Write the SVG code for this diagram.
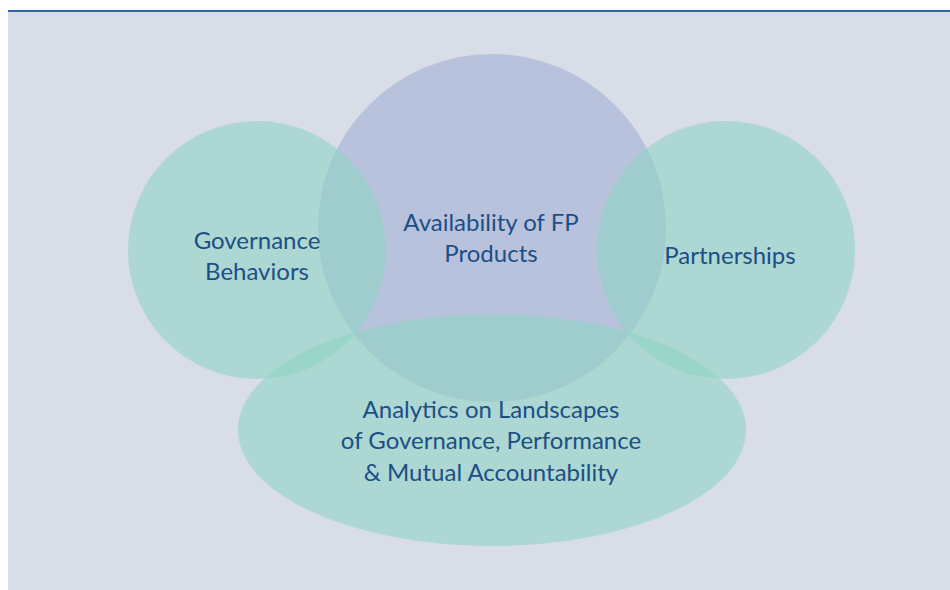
<svg xmlns="http://www.w3.org/2000/svg" width="950" height="590" viewBox="0 0 950 590">
<style>
.t{font-family:Lato,"Open Sans","Liberation Sans",sans-serif;font-size:24px;fill:#1c4f86;text-anchor:middle}
.teal{fill:#8ed3c5;fill-opacity:0.6}
</style>
<rect x="0" y="0" width="950" height="590" fill="#ffffff"/>
<rect x="8" y="11" width="942" height="579" fill="#d9dde8"/>
<line x1="8" y1="11" x2="950" y2="11" stroke="#2f68a0" stroke-width="2"/>
<g id="availability">
<circle cx="492" cy="228" r="174" fill="#b8c2dc"/>
</g>
<g id="governance">
<circle class="teal" cx="257" cy="250" r="129"/>
</g>
<g id="partnerships">
<circle class="teal" cx="726" cy="250" r="129"/>
</g>
<g id="analytics">
<ellipse class="teal" cx="492" cy="430" rx="254" ry="116"/>
</g>
<g id="labels">
<text class="t" x="257" y="249">Governance</text>
<text class="t" x="257" y="280">Behaviors</text>
<text class="t" x="491" y="231">Availability of FP</text>
<text class="t" x="491" y="262">Products</text>
<text class="t" x="730" y="264">Partnerships</text>
<text class="t" x="491" y="418">Analytics on Landscapes</text>
<text class="t" x="491" y="449">of Governance, Performance</text>
<text class="t" x="491" y="481">&amp; Mutual Accountability</text>
</g>
<g id="connectors"/>
</svg>
